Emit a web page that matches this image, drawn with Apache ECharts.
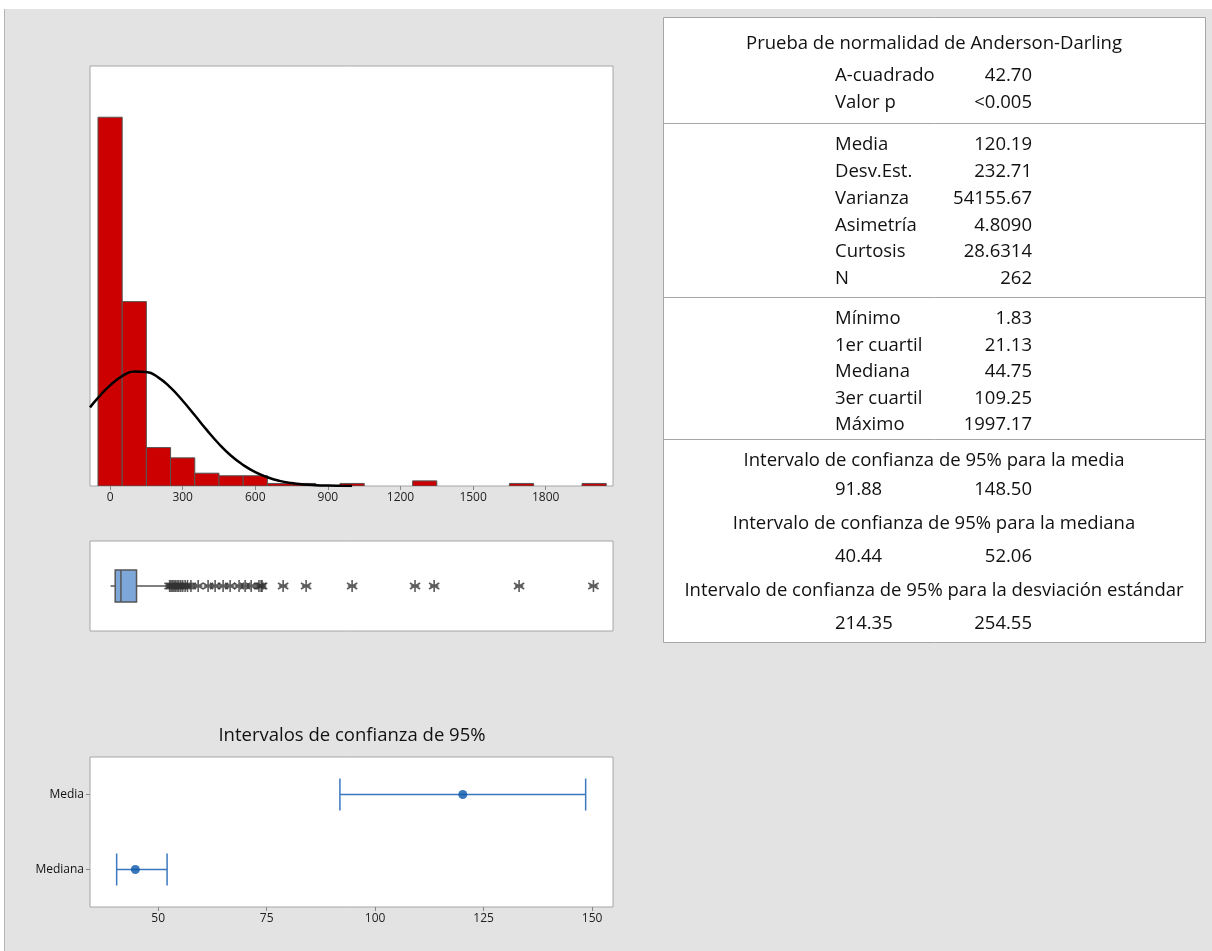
<!DOCTYPE html>
<html>
<head>
<meta charset="utf-8">
<script src="https://cdn.jsdelivr.net/npm/echarts@6/dist/echarts.min.js"></script>
<style>
html, body { margin: 0; padding: 0; background: #fff; }
#chart { width: 1212px; height: 951px; }
</style>
</head>
<body>
<div id="chart"></div>
<script>
// histograma: centro de clase (ancho 100) y frecuencia
const binCenters = [0, 100, 200, 300, 400, 500, 600, 700, 800, 900, 1000, 1100, 1200, 1300, 1400, 1500, 1600, 1700, 1800, 1900, 2000];
const binCounts = [144, 72, 15, 11, 5, 4, 4, 1, 1, 0, 1, 0, 0, 2, 0, 0, 0, 1, 0, 0, 1];
const histTicks = [0, 300, 600, 900, 1200, 1500, 1800];

// curva normal ajustada
const curveX = [-83, -50, 0, 50, 100, 150, 200, 250, 300, 350, 400, 450, 500, 550, 600, 650, 700, 750, 800, 850, 900, 950, 1000];
const curveY = [30.7, 34.4, 39.3, 42.9, 44.7, 44.5, 42.3, 38.4, 33.3, 27.6, 21.8, 16.4, 11.8, 8.2, 5.4, 3.4, 2.0, 1.15, 0.63, 0.33, 0.16, 0.07, 0.03];

// gráfica de caja: mín, Q1, mediana, Q3, extremo del bigote
const boxStats = [1.83, 21.13, 44.75, 109.25, 240];
const outliers = [246, 252, 258, 264, 270, 277, 284, 292, 300, 310, 320, 334, 364, 405, 434, 467, 496, 533, 558, 583, 615, 624, 628, 715, 810, 1000, 1260, 1339, 1690, 1997.17];

// intervalos de confianza de 95%
const ciNames = ['Mediana', 'Media'];
const ciCenter = [44.75, 120.19];
const ciLow = [40.44, 91.88];
const ciHigh = [52.06, 148.50];
const ciTicks = [50, 75, 100, 125, 150];

// tabla resumen
const adLabels = ['A-cuadrado', 'Valor p'];
const adValues = ['42.70', '<0.005'];
const descLabels = ['Media', 'Desv.Est.', 'Varianza', 'Asimetría', 'Curtosis', 'N'];
const descValues = ['120.19', '232.71', '54155.67', '4.8090', '28.6314', '262'];
const quantLabels = ['Mínimo', '1er cuartil', 'Mediana', '3er cuartil', 'Máximo'];
const quantValues = ['1.83', '21.13', '44.75', '109.25', '1997.17'];
const ciTitles = ['Intervalo de confianza de 95% para la media', 'Intervalo de confianza de 95% para la mediana', 'Intervalo de confianza de 95% para la desviación estándar'];
const ciTableLow = ['91.88', '40.44', '214.35'];
const ciTableHigh = ['148.50', '52.06', '254.55'];

const FONT = '"Open Sans", "Noto Sans", sans-serif';
const chart = echarts.init(document.getElementById('chart'));

// elementos gráficos de fondo y de la tabla
const graphics = [
  { type: 'rect', shape: { x: 4, y: 9, width: 1208, height: 942 }, style: { fill: '#e3e3e3' }, z: -10 },
  { type: 'line', shape: { x1: 4.5, y1: 9, x2: 4.5, y2: 951 }, style: { stroke: '#b5b5b5', lineWidth: 1 }, z: -9 },
  { type: 'rect', shape: { x: 663.5, y: 17.5, width: 542, height: 625 }, style: { fill: '#fff', stroke: '#a6a6a6', lineWidth: 1 }, z: -5 },
];
[123.5, 297.5, 439.5].forEach((y) => {
  graphics.push({ type: 'line', shape: { x1: 664, y1: y, x2: 1205, y2: y }, style: { stroke: '#a6a6a6', lineWidth: 1 } });
});
const txt = (s, x, y, align) => ({
  type: 'text', x, y: y + 1,
  style: { text: s, fill: '#111', font: '18.5px ' + FONT, textAlign: align, textVerticalAlign: 'middle' },
});
graphics.push(txt('Prueba de normalidad de Anderson-Darling', 934, 43, 'center'));
const rows = (labels, values, y0, step) => {
  labels.forEach((l, i) => {
    graphics.push(txt(l, 835, y0 + i * step, 'left'));
    graphics.push(txt(values[i], 1032, y0 + i * step, 'right'));
  });
};
rows(adLabels, adValues, 75, 27);
rows(descLabels, descValues, 144, 26.8);
rows(quantLabels, quantValues, 318, 26.5);
const ciTitleY = [460, 523, 590];
const ciValY = [489, 556, 623];
ciTitles.forEach((t, i) => {
  graphics.push(txt(t, 934, ciTitleY[i], 'center'));
  graphics.push(txt(ciTableLow[i], 835, ciValY[i], 'left'));
  graphics.push(txt(ciTableHigh[i], 1032, ciValY[i], 'right'));
});
graphics.push(txt('Intervalos de confianza de 95%', 352, 735, 'center'));

const gridStyle = { show: true, backgroundColor: '#fff', borderColor: '#a6a6a6', borderWidth: 1 };
const asterisk = 'path://M5,0L5,10M0.7,2.5L9.3,7.5M0.7,7.5L9.3,2.5M1.5,5L8.5,5';
const plain = (v) => String(v);

const option = {
  animation: false,
  backgroundColor: '#fff',
  graphic: graphics,
  grid: [
    Object.assign({ left: 90, top: 66, width: 523, height: 420 }, gridStyle),
    Object.assign({ left: 90, top: 541, width: 523, height: 90 }, gridStyle),
    Object.assign({ left: 90, top: 757, width: 523, height: 150 }, gridStyle),
  ],
  xAxis: [
    {
      type: 'value', gridIndex: 0, min: -83, max: 2078,
      splitLine: { show: false },
      axisLine: { show: false },
      axisTick: { show: true, customValues: histTicks, length: 4, lineStyle: { color: '#888' } },
      axisLabel: { customValues: histTicks, formatter: plain, color: '#222', fontSize: 12, fontFamily: FONT, margin: 6 },
    },
    {
      type: 'value', gridIndex: 1, min: -83, max: 2078,
      show: false, splitLine: { show: false },
    },
    {
      type: 'value', gridIndex: 2, min: 34.3, max: 154.8,
      splitLine: { show: false },
      axisLine: { show: false },
      axisTick: { show: true, customValues: ciTicks, length: 4, lineStyle: { color: '#888' } },
      axisLabel: { customValues: ciTicks, formatter: plain, color: '#222', fontSize: 12, fontFamily: FONT, margin: 6 },
    },
  ],
  yAxis: [
    { type: 'value', gridIndex: 0, min: 0, max: 164, show: false, splitLine: { show: false } },
    { type: 'value', gridIndex: 1, min: 0, max: 2, show: false, splitLine: { show: false } },
    {
      type: 'category', gridIndex: 2, data: ciNames,
      axisLine: { show: false },
      axisTick: { show: true, alignWithLabel: true, length: 4, lineStyle: { color: '#888' } },
      axisLabel: { color: '#111', fontSize: 12, fontFamily: FONT, margin: 6 },
    },
  ],
  series: [
    {
      type: 'custom', xAxisIndex: 0, yAxisIndex: 0, clip: true,
      data: binCenters.map((c, i) => [c - 50, c + 50, binCounts[i]]).filter((d) => d[2] > 0),
      encode: { x: [0, 1], y: 2 },
      renderItem(params, api) {
        const p0 = api.coord([api.value(0), 0]);
        const p1 = api.coord([api.value(1), api.value(2)]);
        return {
          type: 'rect',
          shape: { x: p0[0], y: p1[1], width: p1[0] - p0[0], height: p0[1] - p1[1] },
          style: { fill: '#cc0000', stroke: '#555', lineWidth: 1 },
        };
      },
    },
    {
      type: 'line', xAxisIndex: 0, yAxisIndex: 0, z: 5,
      data: curveX.map((x, i) => [x, curveY[i]]),
      smooth: true, symbol: 'none',
      lineStyle: { color: '#000', width: 2.5 },
    },
    {
      type: 'custom', xAxisIndex: 1, yAxisIndex: 1,
      data: [boxStats],
      encode: { x: [0, 1, 2, 3, 4] },
      renderItem(params, api) {
        const pMin = api.coord([api.value(0), 1]);
        const pQ1 = api.coord([api.value(1), 1]);
        const pMed = api.coord([api.value(2), 1]);
        const pQ3 = api.coord([api.value(3), 1]);
        const pMax = api.coord([api.value(4), 1]);
        const h = 16;
        const stroke = { stroke: '#555', lineWidth: 1.5 };
        return {
          type: 'group',
          children: [
            { type: 'line', shape: { x1: pMin[0], y1: pMin[1], x2: pQ1[0], y2: pQ1[1] }, style: stroke },
            { type: 'line', shape: { x1: pQ3[0], y1: pQ3[1], x2: pMax[0], y2: pMax[1] }, style: stroke },
            { type: 'rect', shape: { x: pQ1[0], y: pQ1[1] - h, width: pQ3[0] - pQ1[0], height: 2 * h }, style: { fill: '#7da7d9', stroke: '#555', lineWidth: 1.5 } },
            { type: 'line', shape: { x1: pMed[0], y1: pMed[1] - h, x2: pMed[0], y2: pMed[1] + h }, style: stroke },
          ],
        };
      },
    },
    {
      type: 'scatter', xAxisIndex: 1, yAxisIndex: 1,
      data: outliers.map((v) => [v, 1]),
      symbol: asterisk, symbolSize: 12, symbolKeepAspect: true,
      itemStyle: { color: 'transparent', borderColor: '#333', borderWidth: 1.6 },
    },
    {
      type: 'custom', xAxisIndex: 2, yAxisIndex: 2,
      data: ciNames.map((n, i) => [ciLow[i], ciHigh[i], i]),
      encode: { x: [0, 1], y: 2 },
      renderItem(params, api) {
        const a = api.coord([api.value(0), api.value(2)]);
        const b = api.coord([api.value(1), api.value(2)]);
        const h = 16;
        const st = { stroke: '#3b78bf', lineWidth: 1.5 };
        return {
          type: 'group',
          children: [
            { type: 'line', shape: { x1: a[0], y1: a[1], x2: b[0], y2: b[1] }, style: st },
            { type: 'line', shape: { x1: a[0], y1: a[1] - h, x2: a[0], y2: a[1] + h }, style: st },
            { type: 'line', shape: { x1: b[0], y1: b[1] - h, x2: b[0], y2: b[1] + h }, style: st },
          ],
        };
      },
    },
    {
      type: 'scatter', xAxisIndex: 2, yAxisIndex: 2, z: 5,
      data: ciNames.map((n, i) => [ciCenter[i], i]),
      symbol: 'circle', symbolSize: 9,
      itemStyle: { color: '#0a56a8' },
    },
  ],
};

chart.setOption(option);
</script>
</body>
</html>
